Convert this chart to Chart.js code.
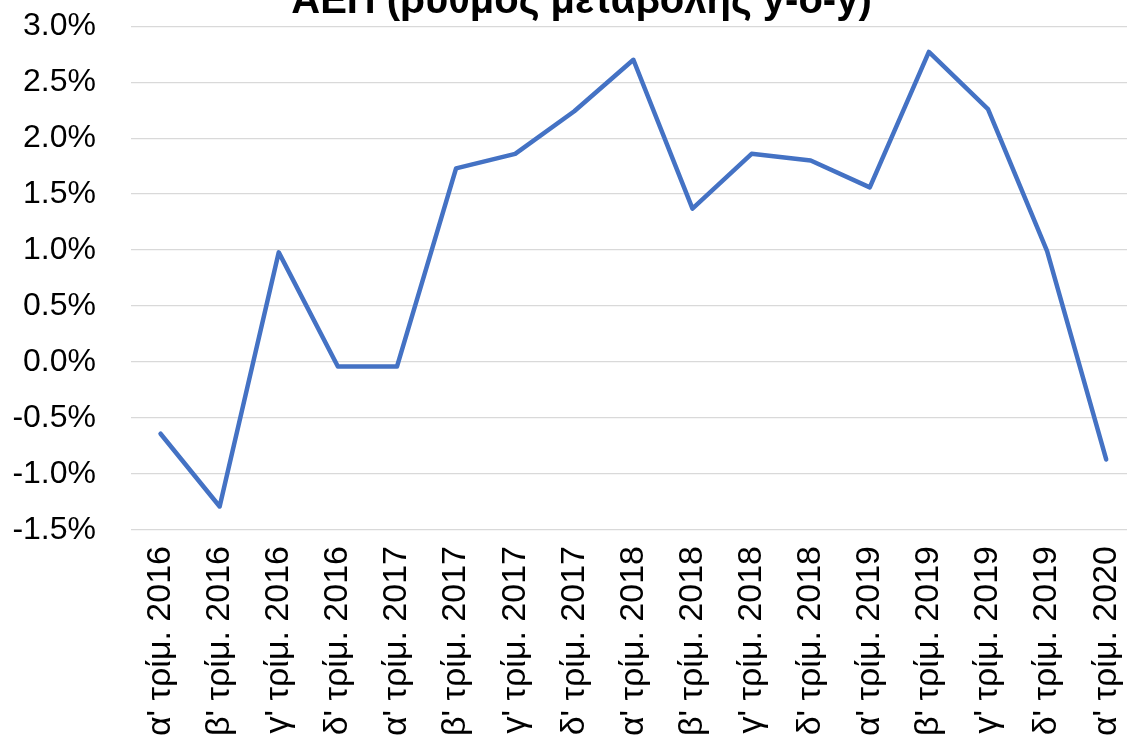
<!DOCTYPE html>
<html>
<head>
<meta charset="utf-8">
<script src="https://cdn.jsdelivr.net/npm/chart.js@4.4.1/dist/chart.umd.min.js"></script>
<style>
  html, body { margin: 0; padding: 0; background: #ffffff; overflow: hidden; width: 1127px; height: 748px; }
  #wrap { position: absolute; left: 0; top: -28px; width: 1163px; height: 782px; }
</style>
</head>
<body>
<div id="wrap"><canvas id="c"></canvas></div>
<script>
const titleText = "ΑΕΠ (ρυθμός μεταβολής y-o-y)";
const categories = [
  "α' τρίμ. 2016", "β' τρίμ. 2016", "γ' τρίμ. 2016", "δ' τρίμ. 2016",
  "α' τρίμ. 2017", "β' τρίμ. 2017", "γ' τρίμ. 2017", "δ' τρίμ. 2017",
  "α' τρίμ. 2018", "β' τρίμ. 2018", "γ' τρίμ. 2018", "δ' τρίμ. 2018",
  "α' τρίμ. 2019", "β' τρίμ. 2019", "γ' τρίμ. 2019", "δ' τρίμ. 2019",
  "α' τρίμ. 2020"
];
const gdpGrowth = [
  -0.64, -1.29, 0.98, -0.04,
  -0.04, 1.73, 1.86, 2.24,
  2.70, 1.37, 1.86, 1.80,
  1.56, 2.77, 2.26, 0.99,
  -0.87
];
const yMin = -1.5, yMax = 3.0, yStep = 0.5;

const ctx = document.getElementById('c');
new Chart(ctx, {
  type: 'line',
  data: {
    labels: categories,
    datasets: [{
      label: titleText,
      data: gdpGrowth,
      borderColor: '#4472C4',
      backgroundColor: '#4472C4',
      borderWidth: 4.5,
      pointRadius: 0,
      pointHoverRadius: 0,
      tension: 0,
      borderCapStyle: 'round',
      borderJoinStyle: 'round'
    }]
  },
  options: {
    responsive: true,
    maintainAspectRatio: false,
    animation: false,
    layout: { padding: 0 },
    plugins: {
      legend: { display: false },
      tooltip: { enabled: false },
      title: {
        display: true,
        text: titleText,
        color: '#000000',
        font: { family: 'Liberation Sans', size: 40, weight: 'bold', lineHeight: 1.2 },
        padding: { top: 0, bottom: 0 }
      }
    },
    scales: {
      x: {
        offset: true,
        grid: { display: false, drawTicks: false },
        border: { display: false },
        ticks: {
          color: '#000000',
          font: { family: 'Liberation Sans', size: 34 },
          minRotation: 90,
          maxRotation: 90,
          autoSkip: false,
          padding: 16
        },
        afterFit: function(scale) { scale.height = 224; }
      },
      y: {
        min: yMin,
        max: yMax,
        grid: { color: '#d9d9d9', lineWidth: 1.3, drawTicks: false },
        border: { display: false },
        ticks: {
          stepSize: yStep,
          color: '#000000',
          font: { family: 'Liberation Sans', size: 32 },
          padding: 35,
          callback: function(v) { return Number(v).toFixed(1) + '%'; }
        },
        afterFit: function(scale) { scale.width = 131; }
      }
    }
  }
});
</script>
</body>
</html>
